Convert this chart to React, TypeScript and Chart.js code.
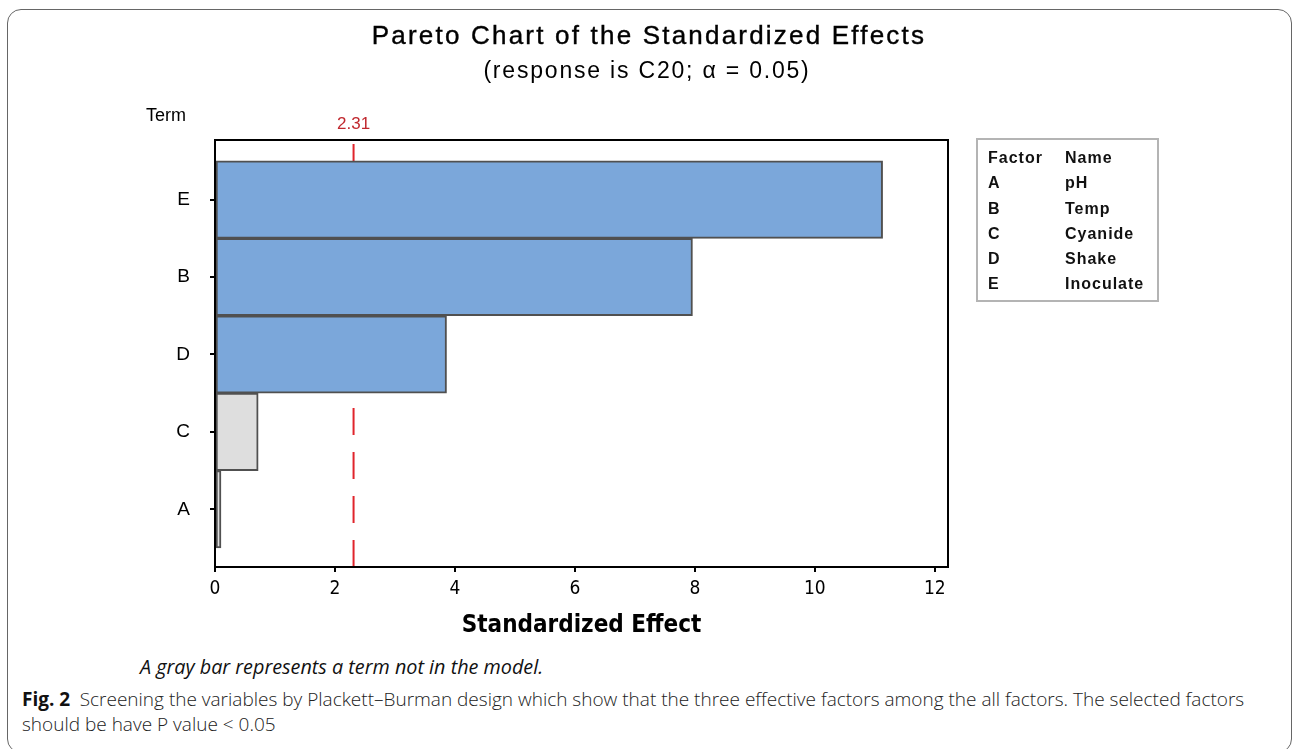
import React, { useEffect, useRef } from "react";
import { Chart, registerables } from "chart.js";

Chart.register(...registerables);

// ---- data ----
const terms: string[] = ["E", "B", "D", "C", "A"];
const effects: number[] = [11.13, 7.96, 3.86, 0.72, 0.1];
const criticalValue = 2.31;
const xTicks: number[] = [0, 2, 4, 6, 8, 10, 12];
const factorCodes: string[] = ["A", "B", "C", "D", "E"];
const factorNames: string[] = ["pH", "Temp", "Cyanide", "Shake", "Inoculate"];

const BLUE = "#7ba7da";
const GRAY = "#dedede";
const NARROW = "'Liberation Sans Narrow', 'DejaVu Sans Condensed', 'DejaVu Sans', sans-serif";
const SANS = "'Liberation Sans', Arial, sans-serif";

const refLinePlugin = {
  id: "refLine",
  beforeDatasetsDraw(chart: any) {
    const { ctx, chartArea, scales } = chart;
    const x = scales.x.getPixelForValue(criticalValue);
    ctx.save();
    ctx.strokeStyle = "#e0242c";
    ctx.lineWidth = 2;
    ctx.setLineDash([27, 17]);
    ctx.beginPath();
    ctx.moveTo(x, chartArea.bottom);
    ctx.lineTo(x, chartArea.top);
    ctx.stroke();
    ctx.restore();
  },
  afterDraw(chart: any) {
    const { ctx, chartArea, scales } = chart;
    const x = scales.x.getPixelForValue(criticalValue);
    ctx.save();
    ctx.strokeStyle = "#000";
    ctx.lineWidth = 2;
    ctx.strokeRect(chartArea.left, chartArea.top, chartArea.right - chartArea.left, chartArea.bottom - chartArea.top);
    ctx.fillStyle = "#c0282e";
    ctx.font = `17px ${SANS}`;
    ctx.textAlign = "center";
    ctx.textBaseline = "middle";
    ctx.fillText(criticalValue.toFixed(2), x, chartArea.top - 16);
    ctx.fillStyle = "#000";
    ctx.font = `18px ${SANS}`;
    ctx.fillText("Term", 166, chartArea.top - 24);
    ctx.restore();
  },
};

function App() {
  const ref = useRef<HTMLCanvasElement | null>(null);
  useEffect(() => {
    if (!ref.current) return;
    const n = terms.length;
    const chart = new Chart(ref.current, {
      type: "bar",
      data: {
        datasets: [
          {
            data: effects.map((v, i) => ({ x: v, y: n - 1 - i })),
            backgroundColor: effects.map((v) => (v > criticalValue ? BLUE : GRAY)),
            borderColor: "#505050",
            borderWidth: 2,
            borderSkipped: false,
            barPercentage: 1,
            categoryPercentage: 1,
          },
        ],
      },
      plugins: [refLinePlugin],
      options: {
        indexAxis: "y",
        animation: false,
        responsive: false,
        maintainAspectRatio: false,
        layout: { padding: { left: 140, top: 140, right: 344, bottom: 0 } },
        plugins: { legend: { display: false }, tooltip: { enabled: false } },
        scales: {
          x: {
            type: "linear",
            min: 0,
            max: 12.22,
            afterFit: (s: any) => { s.height = 83; },
            afterBuildTicks: (s: any) => { s.ticks = xTicks.map((v) => ({ value: v })); },
            ticks: { color: "#000", font: { family: NARROW, size: 19 }, padding: 6 },
            grid: { display: true, drawOnChartArea: false, drawTicks: true, tickLength: 5, color: "#000", lineWidth: 2 },
            border: { display: true, color: "#000", width: 2 },
            title: {
              display: true,
              text: "Standardized Effect",
              color: "#000",
              font: { family: NARROW, size: 24, weight: "bold" },
              padding: { top: 0, bottom: 10 },
            },
          },
          y: {
            type: "linear",
            offset: false,
            min: -0.745,
            max: 4.77,
            afterFit: (s: any) => { s.width = 75; },
            afterBuildTicks: (s: any) => { s.ticks = terms.map((_, i) => ({ value: n - 1 - i })); },
            ticks: {
              color: "#000",
              font: { family: SANS, size: 19 },
              padding: 20,
              callback: (v: any) => terms[n - 1 - Number(v)],
            },
            grid: { display: true, offset: false, drawOnChartArea: false, drawTicks: true, tickLength: 5, color: "#000", lineWidth: 2 },
            border: { display: true, color: "#000", width: 2 },
          },
        },
      },
    } as any);
    return () => chart.destroy();
  }, []);

  return (
    <div style={{ position: "absolute", left: 0, top: 0, width: 1292, height: 749, background: "#fff", overflow: "hidden" }}>
      <div style={{ position: "absolute", left: 7, top: 9, width: 1285, height: 744, border: "1px solid #666", borderRadius: 14, boxSizing: "border-box" }} />
      <canvas ref={ref} width={1292} height={650} style={{ position: "absolute", left: 0, top: 0 }} />
      <div style={{ position: "absolute", left: 0, width: 1292, top: 18, textAlign: "center", fontFamily: SANS, fontSize: 26, letterSpacing: 2.2, lineHeight: "34px", color: "#000", paddingLeft: 6, boxSizing: "border-box", WebkitTextStroke: "0.4px #000" }}>
        Pareto Chart of the Standardized Effects
      </div>
      <div style={{ position: "absolute", left: 0, width: 1292, top: 56, textAlign: "center", fontFamily: SANS, fontSize: 23, letterSpacing: 1.8, lineHeight: "28px", color: "#000", paddingLeft: 2, boxSizing: "border-box" }}>
        (response is C20; α = 0.05)
      </div>
      <div style={{ position: "absolute", left: 976, top: 138, width: 183, height: 164, border: "2px solid #b4b4b4", boxSizing: "border-box", fontFamily: SANS, fontWeight: "bold", fontSize: 16, color: "#111", letterSpacing: 1 }}>
        <div style={{ position: "absolute", left: 10, top: 5, lineHeight: "25.3px" }}>
          <div>Factor</div>
          {factorCodes.map((c) => (<div key={c}>{c}</div>))}
        </div>
        <div style={{ position: "absolute", left: 87, top: 5, lineHeight: "25.3px" }}>
          <div>Name</div>
          {factorNames.map((c) => (<div key={c}>{c}</div>))}
        </div>
      </div>
      <div style={{ position: "absolute", left: 140, top: 654, fontFamily: "'Open Sans', sans-serif", fontStyle: "italic", fontSize: 19.8, lineHeight: "26px", color: "#111", whiteSpace: "nowrap" }}>
        A gray bar represents a term not in the model.
      </div>
      <div style={{ position: "absolute", left: 22, top: 687, fontFamily: "'Open Sans', sans-serif", fontSize: 19, lineHeight: "25px", color: "#222", whiteSpace: "nowrap", fontWeight: 300 }}>
        <span style={{ fontWeight: "bold", color: "#111" }}>Fig. 2</span>
        {"\u2002Screening the variables by Plackett\u2013Burman design which show that the three effective factors among the all factors. The selected factors"}
        <br />
        should be have P value &lt; 0.05
      </div>
    </div>
  );
}

export default App;
